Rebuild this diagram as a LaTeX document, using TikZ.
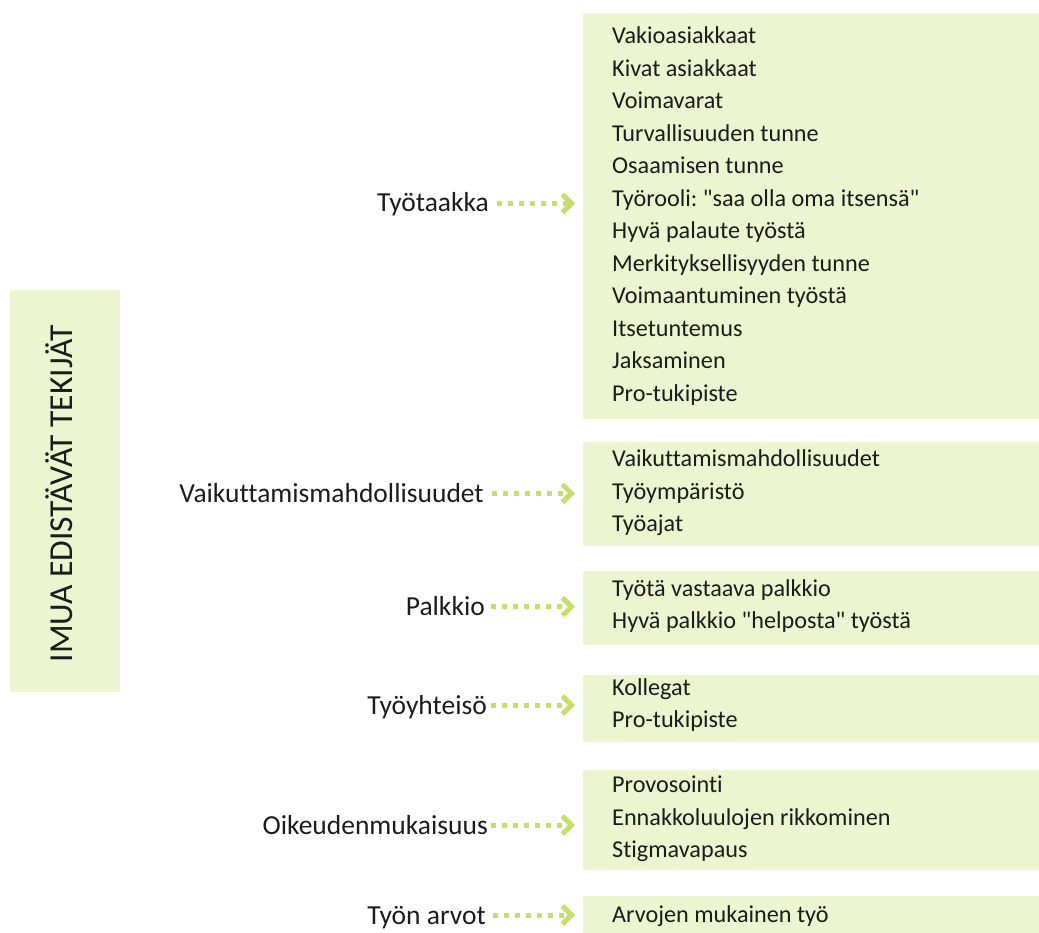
\documentclass[tikz,border=0pt]{standalone}
\usepackage{fontspec}
\setmainfont{Carlito}[Ligatures={TeXOff,NoCommon}]
\usetikzlibrary{arrows.meta}
\definecolor{boxgreen}{RGB}{236,244,208}
\definecolor{arrowgreen}{RGB}{197,223,106}
\definecolor{ink}{RGB}{28,28,28}
\frenchspacing
\begin{document}
\frenchspacing
\begin{tikzpicture}[x=1pt,y=-1pt,
  every node/.style={font=\fontsize{24.2}{28}\selectfont, text=ink, inner sep=0pt},
  panel/.style={fill=boxgreen, draw=none, anchor=north west, minimum width=456pt},
  item/.style={anchor=base west},
  lbl/.style={anchor=base east, font=\fontsize{27.5}{32}\selectfont},
  conn/.style={draw=arrowgreen, line width=5pt, dash pattern=on 5pt off 6pt,
    -{Straight Barb[length=9pt,width=18pt,line width=5pt]}, shorten >=8pt}
]
\useasboundingbox (0,0) rectangle (1039,933);

% left title box
\node[fill=boxgreen, anchor=north west, minimum width=110pt, minimum height=402pt] (side) at (10,290) {};
\node[rotate=90, anchor=base, font=\fontsize{33.5}{36}\selectfont] (title) at (72,494) {IMUA EDISTÄVÄT TEKIJÄT};

% right panels
\node[panel, minimum height=406pt] (p1) at (583,13) {};
\node[panel, minimum height=104pt] (p2) at (583,442) {};
\node[panel, minimum height=74pt] (p3) at (583,571) {};
\node[panel, minimum height=67pt] (p4) at (583,675) {};
\node[panel, minimum height=100pt] (p5) at (583,770) {};
\node[panel, minimum height=37pt] (p6) at (583,896) {};

% panel items
\foreach \t [count=\i] in {Vakioasiakkaat, Kivat asiakkaat, Voimavarat, Turvallisuuden tunne, Osaamisen tunne, Työrooli: "saa olla oma itsensä", Hyvä palaute työstä, Merkityksellisyyden tunne, Voimaantuminen työstä, Itsetuntemus, Jaksaminen, Pro-tukipiste}
  \node[item] (a\i) at (612,{43.5+32.55*(\i-1)}) {\t};
\foreach \t [count=\i] in {Vaikuttamismahdollisuudet, Työympäristö, Työajat}
  \node[item] (b\i) at (612,{466.7+32.5*(\i-1)}) {\t};
\foreach \t [count=\i] in {Työtä vastaava palkkio, Hyvä palkkio "helposta" työstä}
  \node[item] (c\i) at (612,{596+32.5*(\i-1)}) {\t};
\foreach \t [count=\i] in {Kollegat, Pro-tukipiste}
  \node[item] (d\i) at (612,{695+32.5*(\i-1)}) {\t};
\foreach \t [count=\i] in {Provosointi, Ennakkoluulojen rikkominen, Stigmavapaus}
  \node[item] (e\i) at (612,{792.3+32.7*(\i-1)}) {\t};
\node[item] (f1) at (612,922.7) {Arvojen mukainen työ};

% labels
\node[lbl] (l1) at (489,212) {Työtaakka};
\node[lbl] (l2) at (484,502) {Vaikuttamismahdollisuudet};
\node[lbl] (l3) at (485,615.5) {Palkkio};
\node[lbl] (l4) at (487,714) {Työyhteisö};
\node[lbl] (l5) at (488,834) {Oikeudenmukaisuus};
\node[lbl] (l6) at (486,924) {Työn arvot};

% connector starts
\coordinate (s1) at (497,203.5);
\coordinate (s2) at (492,493.3);
\coordinate (s3) at (491,606.7);
\coordinate (s4) at (491,705);
\coordinate (s5) at (491,825);
\coordinate (s6) at (493,915);

\draw[conn] (s1) -- (s1 -| p1.west);
\draw[conn] (s2) -- (s2 -| p2.west);
\draw[conn] (s3) -- (s3 -| p3.west);
\draw[conn] (s4) -- (s4 -| p4.west);
\draw[conn] (s5) -- (s5 -| p5.west);
\draw[conn] (s6) -- (s6 -| p6.west);
\end{tikzpicture}
\end{document}
